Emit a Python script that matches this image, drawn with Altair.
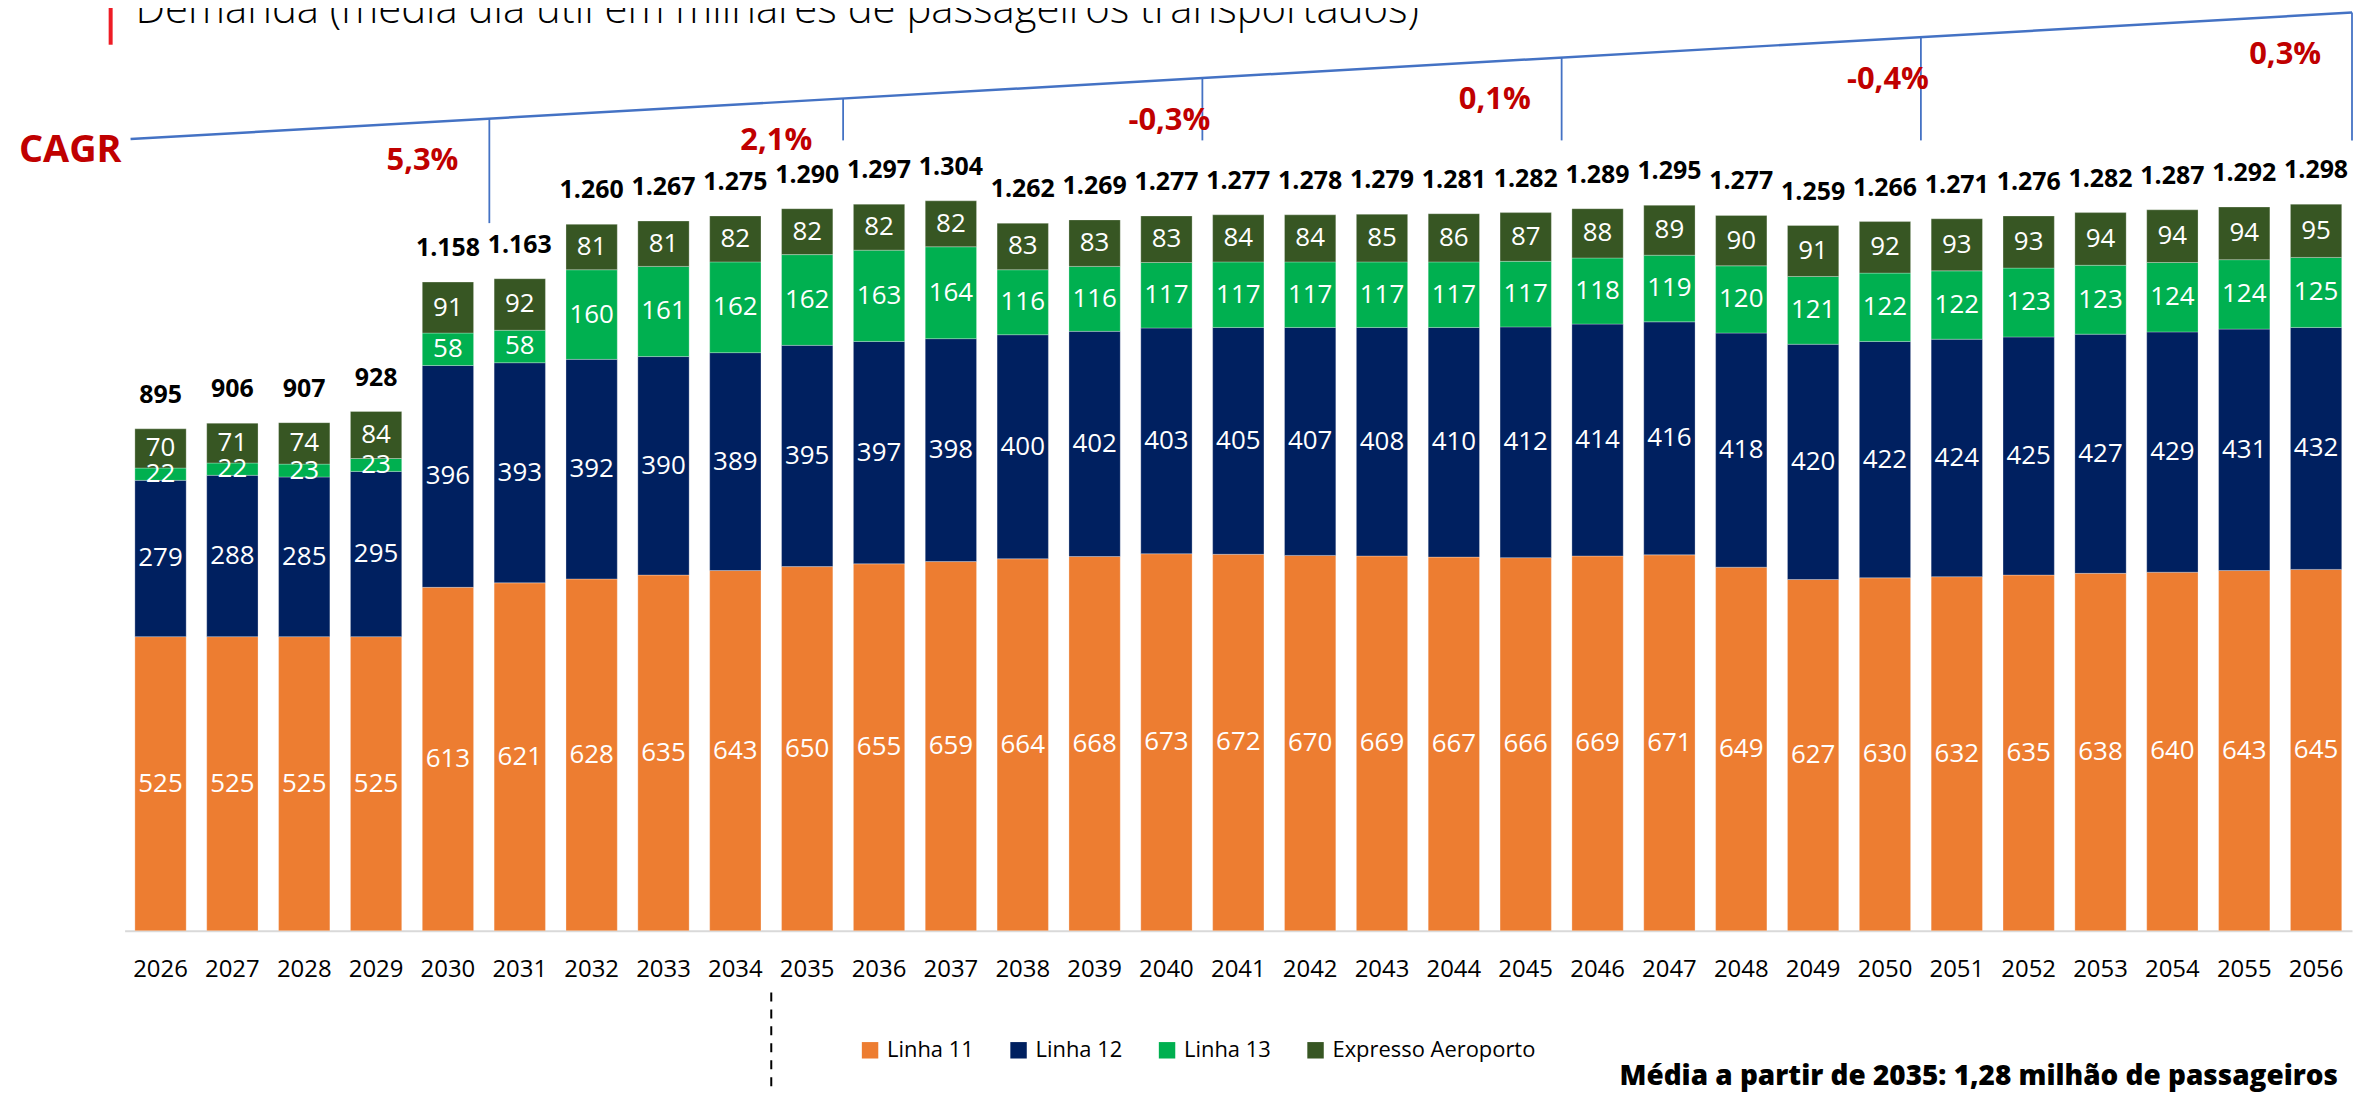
import altair as alt
import pandas as pd

# ---------------- data ----------------
years = [str(y) for y in range(2026, 2057)]
linha_11 = [525, 525, 525, 525, 613, 621, 628, 635, 643, 650, 655, 659, 664, 668, 673, 672,
            670, 669, 667, 666, 669, 671, 649, 627, 630, 632, 635, 638, 640, 643, 645]
linha_12 = [279, 288, 285, 295, 396, 393, 392, 390, 389, 395, 397, 398, 400, 402, 403, 405,
            407, 408, 410, 412, 414, 416, 418, 420, 422, 424, 425, 427, 429, 431, 432]
linha_13 = [22, 22, 23, 23, 58, 58, 160, 161, 162, 162, 163, 164, 116, 116, 117, 117,
            117, 117, 117, 117, 118, 119, 120, 121, 122, 122, 123, 123, 124, 124, 125]
expresso = [70, 71, 74, 84, 91, 92, 81, 81, 82, 82, 82, 82, 83, 83, 83, 84,
            84, 85, 86, 87, 88, 89, 90, 91, 92, 93, 93, 94, 94, 94, 95]
totais = [895, 906, 907, 928, 1158, 1163, 1260, 1267, 1275, 1290, 1297, 1304, 1262, 1269,
          1277, 1277, 1278, 1279, 1281, 1282, 1289, 1295, 1277, 1259, 1266, 1271, 1276,
          1282, 1287, 1292, 1298]
series_names = ["Linha 11", "Linha 12", "Linha 13", "Expresso Aeroporto"]
series_colors = ["#ED7D31", "#002060", "#00B050", "#375623"]
cagr_end_years = ["2030", "2035", "2040", "2045", "2050", "2056"]
cagr_labels = ["5,3%", "2,1%", "-0,3%", "0,1%", "-0,4%", "0,3%"]
title_text = "Demanda (média dia útil em milhares de passageiros transportados)"
cagr_word = "CAGR"
note_text = "Média a partir de 2035: 1,28 milhão de passageiros"
divider_year = "2034"

# ---------------- layout ----------------
FONT = "Open Sans"
PAD_LEFT = 117
PLOT_W = 2235
PLOT_H = 924
Y_MAX = 1644
N = len(years)
STEP = PLOT_W / N
PX0 = 8 + PAD_LEFT          # page x of plot left
PY0 = 8                     # page y of plot top
BASE = PY0 + PLOT_H         # page y of baseline
FIRST_TICK_NUDGE = 5.5      # the first CAGR bracket sits a little right of the gap


def units(ypage):
    return (BASE - ypage) * Y_MAX / PLOT_H


def slot(xpage):
    return (xpage - PX0) / STEP


LINE_X0, LINE_Y0, LINE_X1, LINE_Y1 = 131, 137.7, 2360, 10.7


def line_y(xp):
    return LINE_Y0 + (xp - LINE_X0) * (LINE_Y1 - LINE_Y0) / (LINE_X1 - LINE_X0)


# ---------------- tables ----------------
rows = []
for i, y in enumerate(years):
    for k, (name, vals) in enumerate(zip(series_names, [linha_11, linha_12, linha_13, expresso])):
        rows.append({"year": y, "series": name, "order": k, "value": vals[i]})
df = pd.DataFrame(rows)

tot = pd.DataFrame({
    "year": years,
    "label": [f"{v:,}".replace(",", ".") for v in totais],
    "top": [a + b + c + d for a, b, c, d in zip(linha_11, linha_12, linha_13, expresso)],
})

vrows = []
for j, (ey, lab) in enumerate(zip(cagr_end_years, cagr_labels)):
    xv = PX0 + (years.index(ey) + 1) * STEP + (FIRST_TICK_NUDGE if j == 0 else 0)
    ly = line_y(xv)
    vrows.append({
        "s": slot(xv),
        "label": lab,
        "neg": lab.startswith("-"),
        "top": units(ly),
        "bottom": units(222 if j == 0 else 139),
        "ly": units(ly + 41 + 11),
    })
vdf = pd.DataFrame(vrows)

line_df = pd.DataFrame([{"s0": slot(LINE_X0), "s1": slot(LINE_X1),
                         "y0": units(LINE_Y0), "y1": units(LINE_Y1)}])
cagr_df = pd.DataFrame([{"s": slot(LINE_X0 - 9), "label": cagr_word,
                         "ly": units(LINE_Y0 + 9.3 + 13.6)}])
div_df = pd.DataFrame([{"s": years.index(divider_year) + 1, "y0": units(994), "y1": units(1110)}])
one = pd.DataFrame([{"t": title_text, "n": note_text}])

# ---------------- scales ----------------
xscale = alt.Scale(domain=years, paddingInner=0.286, paddingOuter=0.143)
xaxis = alt.Axis(title=None, ticks=False, tickSize=0, domainColor="#D9D9D9", domainWidth=2,
                 labelFont=FONT, labelFontSize=24, labelColor="#000000", labelAngle=0,
                 labelBaseline="alphabetic", labelPadding=46, grid=False)
sscale = alt.Scale(domain=[0, N], nice=False, zero=False)
yscale = alt.Scale(domain=[0, Y_MAX], nice=False, zero=True)


def X():
    return alt.X("year:N", scale=xscale, axis=xaxis, sort=years)


def S(field):
    return alt.X(f"{field}:Q", scale=sscale, axis=None)


def Y(field):
    return alt.Y(f"{field}:Q", scale=yscale, axis=None)


stacked = alt.Chart(df).transform_stack(
    stack="value", groupby=["year"], sort=[alt.SortField("order", order="ascending")],
    as_=["v0", "v1"]
).transform_calculate(mid="(datum.v0 + datum.v1) / 2")

bars = stacked.mark_bar(stroke="#ffffff", strokeWidth=0.8, strokeOpacity=0.35).encode(
    x=X(),
    y=Y("v0"),
    y2="v1:Q",
    color=alt.Color("series:N", scale=alt.Scale(domain=series_names, range=series_colors),
                    legend=alt.Legend(orient="none", legendX=737, legendY=1033,
                                      direction="horizontal", title=None, symbolType="square",
                                      symbolSize=272, symbolStrokeWidth=0, labelFont=FONT,
                                      labelFontSize=22, labelColor="#000000", labelOffset=6,
                                      labelLimit=0, columnPadding=33, padding=0)),
)

seg_labels = stacked.mark_text(color="#ffffff", font=FONT, fontSize=26, baseline="middle",
                               align="center").encode(
    x=X(), y=Y("mid"), text="value:Q")

tot_labels = alt.Chart(tot).mark_text(color="#000000", font=FONT, fontSize=25, fontWeight="bold",
                                      baseline="alphabetic", align="center", dy=-26).encode(
    x=X(), y=Y("top"), text="label:N")

data_layer = alt.layer(bars, seg_labels, tot_labels)

trend = alt.Chart(line_df).mark_rule(color="#4472C4", strokeWidth=2.5).encode(
    x=S("s0"), x2="s1:Q", y=Y("y0"), y2="y1:Q")

verticals = alt.Chart(vdf).mark_rule(color="#4472C4", strokeWidth=1.8).encode(
    x=S("s"), y=Y("top"), y2="bottom:Q")

cagr_pos = alt.Chart(vdf).transform_filter("!datum.neg").mark_text(
    color="#C00000", font=FONT, fontSize=31, fontWeight="bold", align="right",
    baseline="alphabetic", dx=-31).encode(x=S("s"), y=Y("ly"), text="label:N")

cagr_neg = alt.Chart(vdf).transform_filter("datum.neg").mark_text(
    color="#C00000", font=FONT, fontSize=31, fontWeight="bold", align="right",
    baseline="alphabetic", dx=8).encode(x=S("s"), y=Y("ly"), text="label:N")

cagr_txt = alt.Chart(cagr_df).mark_text(
    color="#C00000", font=FONT, fontSize=38, fontWeight="bold", align="right",
    baseline="alphabetic").encode(x=S("s"), y=Y("ly"), text="label:N")

divider = alt.Chart(div_df).mark_rule(color="#000000", strokeWidth=2, strokeDash=[9, 8]).encode(
    x=S("s"), y=Y("y0"), y2="y1:Q")

title_mark = alt.Chart(one).mark_text(
    color="#000000", font=FONT, fontSize=42, fontWeight=300, align="left",
    baseline="alphabetic").encode(x=alt.value(11), y=alt.value(13.7), text="t:N")

red_bar = alt.Chart(one).mark_rule(color="#EE1C25", strokeWidth=4).encode(
    x=alt.value(-14), y=alt.value(-8), y2=alt.value(35))

note = alt.Chart(one).mark_text(
    color="#000000", font=FONT, fontSize=28, fontWeight=800, align="right",
    baseline="alphabetic").encode(x=alt.value(2221), y=alt.value(1079), text="n:N")

annot_layer = alt.layer(trend, verticals, cagr_pos, cagr_neg, cagr_txt, divider)

chart = alt.layer(
    data_layer, annot_layer, title_mark, red_bar, note
).resolve_scale(x="independent").properties(
    width=PLOT_W, height=PLOT_H, autosize="none",
    padding={"left": PAD_LEFT, "top": 0, "right": 1, "bottom": 160},
    background="#ffffff",
).configure_view(strokeWidth=0)

chart.save("out.html", embed_options={"renderer": "svg", "actions": False})
